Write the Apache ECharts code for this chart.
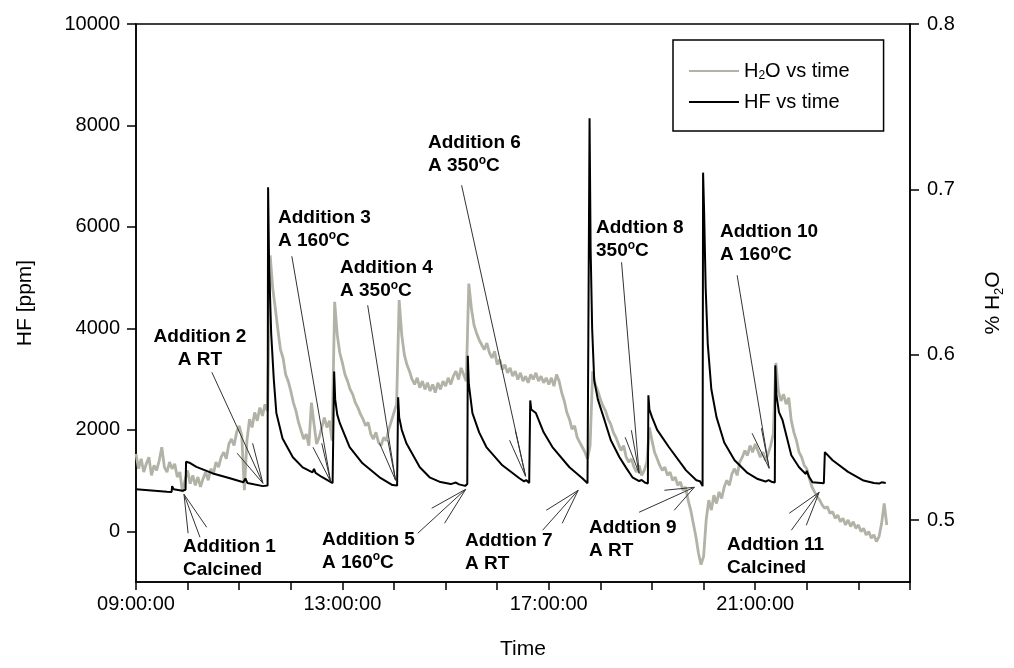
<!DOCTYPE html>
<html><head><meta charset="utf-8">
<script src="https://cdn.jsdelivr.net/npm/echarts@6/dist/echarts.min.js"></script>
<style>html,body{margin:0;padding:0;background:#fff}#c{width:1014px;height:668px}</style>
</head><body><div id="c"></div>
<script>
// ---------------- DATA ----------------
// time axis (hours of day)
const xTickHours = [9,10,11,12,13,14,15,16,17,18,19,20,21,22,23,24];
const xLabelHours = [9,13,17,21];
const xTickLabels = ['09:00:00','13:00:00','17:00:00','21:00:00'];
const hfTickValues = [0,2000,4000,6000,8000,10000];
const h2oTickValues = [0.5,0.6,0.7,0.8];

// H2O (%) sampled every 0.05 h starting 09:00
const h2oStart = 9.0, h2oStep = 0.05;
const h2oValues = [
 0.540,0.531,0.537,0.529,0.534,0.538,0.527,0.533,0.530,0.536,0.544,0.532,0.529,0.535,0.531,0.534,0.526,0.529,0.517,0.524,
 0.530,0.522,0.527,0.521,0.526,0.520,0.525,0.529,0.524,0.531,0.528,0.535,0.532,0.538,0.541,0.537,0.546,0.549,0.545,0.553,
 0.557,0.551,0.518,0.548,0.561,0.556,0.565,0.560,0.568,0.563,0.570,0.566,0.660,0.640,0.628,0.615,0.603,0.598,0.588,0.584,
 0.578,0.571,0.566,0.559,0.554,0.549,0.552,0.545,0.571,0.558,0.546,0.550,0.556,0.562,0.556,0.560,0.548,0.632,0.612,0.601,
 0.595,0.588,0.584,0.579,0.576,0.571,0.568,0.564,0.561,0.557,0.559,0.552,0.549,0.553,0.547,0.545,0.550,0.548,0.555,0.560,
 0.565,0.570,0.633,0.612,0.600,0.594,0.590,0.585,0.582,0.586,0.580,0.584,0.579,0.583,0.578,0.582,0.577,0.583,0.579,0.584,
 0.581,0.586,0.582,0.587,0.590,0.585,0.592,0.588,0.584,0.643,0.628,0.618,0.613,0.609,0.606,0.603,0.607,0.601,0.598,0.602,
 0.594,0.597,0.591,0.594,0.589,0.592,0.587,0.590,0.585,0.589,0.584,0.587,0.583,0.588,0.585,0.589,0.584,0.587,0.583,0.586,
 0.582,0.586,0.581,0.588,0.584,0.577,0.572,0.565,0.561,0.555,0.557,0.550,0.547,0.544,0.541,0.537,0.545,0.590,0.582,0.578,
 0.573,0.569,0.566,0.561,0.558,0.553,0.550,0.546,0.542,0.545,0.538,0.535,0.537,0.532,0.529,0.533,0.527,0.530,0.535,0.556,
 0.548,0.541,0.537,0.533,0.530,0.532,0.527,0.529,0.524,0.526,0.521,0.523,0.518,0.520,0.512,0.506,0.498,0.490,0.480,0.473,
 0.478,0.500,0.512,0.506,0.515,0.510,0.517,0.513,0.520,0.524,0.521,0.528,0.531,0.527,0.535,0.538,0.542,0.539,0.545,0.541,
 0.546,0.542,0.538,0.541,0.536,0.540,0.545,0.552,0.595,0.578,0.572,0.576,0.570,0.574,0.560,0.553,0.548,0.541,0.538,0.533,
 0.531,0.525,0.520,0.517,0.514,0.512,0.509,0.507,0.508,0.504,0.505,0.501,0.503,0.499,0.501,0.497,0.500,0.496,0.499,0.495,
 0.497,0.493,0.495,0.491,0.493,0.489,0.491,0.487,0.490,0.498,0.510,0.497
];

// HF (ppm) as [hour, ppm]
const hfPoints = [
 [9.00,830],[9.30,805],[9.60,780],[9.69,775],[9.70,890],[9.73,830],[9.90,800],[9.96,820],[9.97,1370],[10.05,1345],[10.17,1270],[10.49,1140],[10.82,1045],[11.08,965],[11.12,1040],[11.16,950],[11.46,890],[11.55,900],
 [11.56,6780],[11.58,5200],[11.62,3900],[11.67,3000],[11.72,2330],[11.84,1830],[12.04,1460],[12.23,1260],[12.42,1160],[12.45,1230],[12.48,1150],[12.60,1070],[12.81,950],[12.83,930],
 [12.84,3150],[12.86,2600],[12.90,2300],[12.95,2130],[13.14,1660],[13.39,1340],[13.72,1064],[13.97,910],[14.06,900],
 [14.08,2640],[14.10,2250],[14.15,2000],[14.24,1735],[14.50,1262],[14.69,1064],[14.90,970],[15.10,930],[15.20,960],[15.26,925],[15.38,895],[15.42,930],
 [15.43,3460],[15.45,2900],[15.52,2330],[15.65,1950],[15.79,1660],[16.10,1300],[16.43,1045],[16.52,985],[16.56,1010],[16.62,950],
 [16.64,2580],[16.66,2400],[16.75,2330],[16.90,1950],[17.07,1660],[17.40,1262],[17.65,1045],[17.75,946],
 [17.79,8140],[17.81,5600],[17.84,4000],[17.88,2980],[17.95,2600],[18.08,2190],[18.20,1800],[18.37,1460],[18.50,1250],[18.62,1064],[18.75,990],[18.80,1010],[18.86,960],[18.92,940],
 [18.93,2680],[18.95,2400],[19.00,2250],[19.10,2000],[19.33,1656],[19.66,1200],[19.86,1005],[19.93,985],[19.98,890],
 [19.99,7070],[20.01,6300],[20.04,4800],[20.08,3700],[20.15,2800],[20.25,2250],[20.40,1750],[20.60,1400],[20.85,1150],[21.05,1030],[21.20,980],[21.26,1010],[21.33,970],[21.38,960],
 [21.39,3270],[21.41,2700],[21.46,2350],[21.53,2190],[21.70,1500],[21.85,1262],[21.98,1130],[22.00,1190],[22.04,1080],[22.11,966],[22.33,946],
 [22.35,1560],[22.50,1400],[22.80,1170],[23.10,1000],[23.30,950],[23.40,940],[23.45,965],[23.53,950]
];

// annotations: text lines, target [hour, ppm], leader-line starts [hour, ppm]
const annotations = [
 {lines:['Addition 1','Calcined'], target:[9.93,729], from:[[10.01,-39],[10.24,-118],[10.37,79]]},
 {lines:['Addition 2','A RT'], target:[11.46,946], from:[[10.47,3134],[10.96,1538],[11.26,1735]]},
 {lines:['Addition 3','A 160{sup|o}C'], target:[12.77,986], from:[[12.02,5421],[12.43,1656],[12.60,1735]]},
 {lines:['Addition 4','A 350{sup|o}C'], target:[14.03,1005], from:[[13.49,4455],[13.72,1735],[13.88,1794]]},
 {lines:['Addition 5','A 160{sup|o}C'], target:[15.39,828], from:[[14.46,-39],[14.73,453],[14.98,158]]},
 {lines:['Addition 6','A 350{sup|o}C'], target:[16.55,1084], from:[[15.31,6821],[16.24,1794],[16.35,1991]]},
 {lines:['Addtion 7','A RT'], target:[17.57,808], from:[[16.95,414],[16.88,20],[17.26,158]]},
 {lines:['Addtion 8','350{sup|o}C'], target:[18.75,1143], from:[[18.41,5303],[18.48,1853],[18.60,1991]]},
 {lines:['Addtion 9','A RT'], target:[19.82,867], from:[[18.75,375],[19.24,808],[19.43,414]]},
 {lines:['Addtion 10','A 160{sup|o}C'], target:[21.27,1242], from:[[20.65,5047],[20.94,1932],[21.12,2030]]},
 {lines:['Addtion 11','Calcined'], target:[22.24,769], from:[[21.66,355],[21.70,20],[21.99,118]]}
];

// ---------------- LAYOUT ----------------
const annotLayout = [
 [183,535.5,'left'],[200,325.5,'center'],[278,206.5,'left'],[340,256.5,'left'],[322,528,'left'],
 [428,131.5,'left'],[465,529.5,'left'],[596,216.5,'left'],[589,516.5,'left'],[720,220.5,'left'],[727,533.5,'left']
];
const FONT = '"Liberation Sans", Arial, sans-serif';

const chart = echarts.init(document.getElementById('c'), null, {renderer:'canvas'});

const h2oData = h2oValues.map((v,i)=>[h2oStart + i*h2oStep, v]);
const leaderLines = [];
annotations.forEach(a => a.from.forEach(f => leaderLines.push([{coord:f},{coord:a.target}])));

const graphics = annotations.map((a,i) => ({
  type:'text', silent:true, z:100,
  style:{
    x: annotLayout[i][0], y: annotLayout[i][1],
    text: a.lines.join('\n'),
    fill:'#000', fontFamily: FONT, fontSize:19, fontWeight:'bold',
    align: annotLayout[i][2], verticalAlign:'top', lineHeight:23,
    rich:{sup:{fontFamily:FONT, fontSize:12, fontWeight:'bold', verticalAlign:'top', lineHeight:23, padding:[0,0,6,0]}}
  }
}));

const option = {
  animation:false,
  backgroundColor:'#fff',
  grid:{left:136, right:103, top:24, bottom:86, show:true, borderColor:'#000', borderWidth:1.5, backgroundColor:'transparent'},
  legend:{
    orient:'vertical', left:673, top:40,
    padding:[20,34,18,15], itemGap:9, itemWidth:50, itemHeight:20, itemTextGap:8,
    borderColor:'#000', borderWidth:1.5, backgroundColor:'#fff',
    data:['H2O vs time','HF vs time'],
    itemStyle:{opacity:0, borderWidth:0},
    formatter: n => n === 'H2O vs time' ? 'H{sub|2}O vs time' : n,
    textStyle:{fontFamily:FONT, fontSize:20, color:'#000', lineHeight:22,
      rich:{sub:{fontFamily:FONT, fontSize:12, lineHeight:22, verticalAlign:'bottom'}}}
  },
  xAxis:{
    type:'value', min:9, max:24,
    name:'Time', nameLocation:'middle', nameGap:57,
    nameTextStyle:{fontFamily:FONT, fontSize:21, color:'#000'},
    axisLine:{show:true, onZero:false, lineStyle:{color:'#000', width:1.5}},
    axisTick:{show:true, inside:false, length:8, lineStyle:{color:'#000', width:1.5}, customValues:xTickHours},
    axisLabel:{customValues:xLabelHours, margin:12, fontFamily:FONT, fontSize:20, color:'#000',
      formatter: v => { const k = xLabelHours.indexOf(Math.round(v)); return k >= 0 ? xTickLabels[k] : ''; }},
    splitLine:{show:false}
  },
  yAxis:[
    {
      type:'value', position:'left', min:-1000, max:10000,
      name:'HF [ppm]', nameLocation:'middle', nameGap:100, nameRotate:90,
      nameTextStyle:{fontFamily:FONT, fontSize:21, color:'#000'},
      axisLine:{show:true, onZero:false, lineStyle:{color:'#000', width:1.5}},
      axisTick:{show:true, length:9, lineStyle:{color:'#000', width:1.5}, customValues:hfTickValues},
      axisLabel:{customValues:hfTickValues, margin:16, fontFamily:FONT, fontSize:20, color:'#000', formatter: v => String(v)},
      splitLine:{show:false}
    },
    {
      type:'value', position:'right', min:0.4625, max:0.8,
      name:'% H{sub|2}O', nameLocation:'middle', nameGap:70, nameRotate:90,
      nameTextStyle:{fontFamily:FONT, fontSize:21, color:'#000', lineHeight:26,
        rich:{sub:{fontFamily:FONT, fontSize:13, lineHeight:26, verticalAlign:'bottom'}}},
      axisLine:{show:true, onZero:false, lineStyle:{color:'#000', width:1.5}},
      axisTick:{show:true, length:9, lineStyle:{color:'#000', width:1.5}, customValues:h2oTickValues},
      axisLabel:{customValues:h2oTickValues, margin:17, fontFamily:FONT, fontSize:20, color:'#000', formatter: v => v.toFixed(1)},
      splitLine:{show:false}
    }
  ],
  series:[
    {
      name:'H2O vs time', type:'line', yAxisIndex:1, data:h2oData,
      symbol:'none', showSymbol:false, z:1,
      lineStyle:{color:'#b2b2a6', width:2.8}, itemStyle:{color:'#b2b2a6'},
      emphasis:{disabled:true}
    },
    {
      name:'HF vs time', type:'line', yAxisIndex:0, data:hfPoints,
      symbol:'none', showSymbol:false, z:3,
      lineStyle:{color:'#000', width:2}, itemStyle:{color:'#000'},
      emphasis:{disabled:true},
      markLine:{
        silent:true, symbol:['none','none'], animation:false,
        label:{show:false},
        lineStyle:{type:'solid', color:'#333', width:1},
        emphasis:{disabled:true},
        data: leaderLines
      }
    }
  ],
  graphic: graphics
};
chart.setOption(option);
</script>
</body></html>
